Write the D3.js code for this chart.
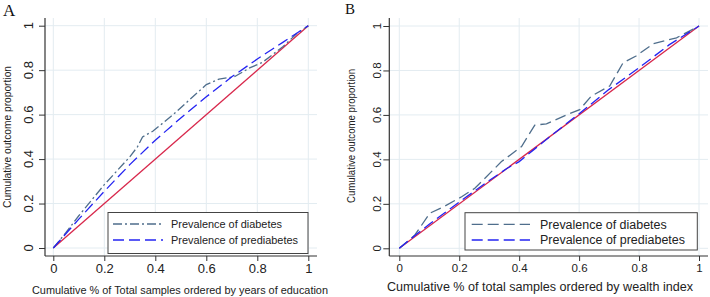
<!DOCTYPE html>
<html>
<head>
<meta charset="utf-8">
<title>Concentration curves</title>
<script src="https://cdn.jsdelivr.net/npm/d3@7/dist/d3.min.js"></script>
<style>
  body { margin: 0; background: #fff; }
  svg { display: block; font-family: "Liberation Sans", Arial, sans-serif; }
  .grid line { stroke: #e3ecf1; stroke-width: 1; }
  .tick line { stroke: #333; }
  .tick text { fill: #222; }
</style>
</head>
<body>
<script>
var width = 710, height = 297;

var ticks = [0, 0.2, 0.4, 0.6, 0.8, 1];
var tickLabels = ["0", "0.2", "0.4", "0.6", "0.8", "1"];
var legendLabels = ["Prevalence of diabetes", "Prevalence of prediabetes"];

// line of equality
var equality = [[0, 0], [1, 1]];

// panel A: ordered by years of education
var eduDiabetes = [[0, 0], [0.05, 0.07], [0.1, 0.145], [0.2, 0.285], [0.3, 0.41], [0.33, 0.455],
  [0.35, 0.5], [0.39, 0.525], [0.47, 0.6], [0.6, 0.735], [0.65, 0.76], [0.71, 0.77],
  [0.77, 0.81], [0.82, 0.835], [0.9, 0.905], [0.955, 0.965], [1, 1]];
var eduPrediabetes = [[0, 0], [0.05, 0.065], [0.1, 0.13], [0.2, 0.255], [0.3, 0.375],
  [0.4, 0.485], [0.5, 0.585], [0.6, 0.68], [0.7, 0.77], [0.8, 0.85], [0.9, 0.925], [1, 1]];

// panel B: ordered by wealth index
var wealthDiabetes = [[0, 0], [0.052, 0.06], [0.102, 0.158], [0.148, 0.187], [0.208, 0.232],
  [0.252, 0.27], [0.341, 0.39], [0.408, 0.458], [0.452, 0.554], [0.491, 0.56], [0.558, 0.6],
  [0.602, 0.624], [0.641, 0.685], [0.702, 0.73], [0.747, 0.835], [0.79, 0.865],
  [0.847, 0.92], [0.925, 0.947], [0.958, 0.97], [1, 1]];
var wealthPrediabetes = [[0, 0], [0.05, 0.055], [0.1, 0.108], [0.2, 0.208], [0.3, 0.305],
  [0.36, 0.36], [0.4, 0.39], [0.45, 0.445], [0.5, 0.5], [0.6, 0.605], [0.7, 0.715],
  [0.8, 0.812], [0.9, 0.915], [1, 1]];

var svg = d3.select("body").append("svg")
  .attr("width", width)
  .attr("height", height);

var panels = [
  {
    letter: "A", letterX: 3, letterY: 16, letterSize: 17,
    box: {left: 45, right: 317, top: 18, bottom: 256},
    xRange: [53.3, 308.3], yRange: [248, 25.7],
    tickSize: 13, yLabelX: 28,
    xTitle: "Cumulative % of Total samples ordered by years of education",
    xTitleX: 180, xTitleY: 289.5, xTitleLen: 296, xTitleSize: 11.5,
    yTitleX: 7, yTitleY: 137, yTitleLen: 142,
    series: [
      {data: eduDiabetes, color: "#4f6e8c", dash: "9,3,2,3"},
      {data: eduPrediabetes, color: "#2424f2", dash: "11,5"}
    ],
    legend: {x: 108, y: 212.5, w: 200, h: 41, lineX: [113, 163], textX: 171,
      rows: [224, 240], lens: [111, 127], size: 11.5}
  },
  {
    letter: "B", letterX: 345, letterY: 14, letterSize: 15,
    box: {left: 389.3, right: 708, top: 18, bottom: 256},
    xRange: [399.3, 699], yRange: [248.3, 26],
    tickSize: 11.5, yLabelX: 377,
    xTitle: "Cumulative % of total samples ordered by wealth index",
    xTitleX: 540, xTitleY: 286.5, xTitleLen: 306, xTitleSize: 12,
    yTitleX: 351, yTitleY: 136, yTitleLen: 134,
    series: [
      {data: wealthDiabetes, color: "#4f6e8c", dash: "11,5"},
      {data: wealthPrediabetes, color: "#2424f2", dash: "11,5"}
    ],
    legend: {x: 465, y: 212.7, w: 232.3, h: 37.3, lineX: [471.7, 530], textX: 540,
      rows: [224.3, 240], lens: [126.7, 145], size: 12.5}
  }
];

panels.forEach(function(p) {
  var x = d3.scaleLinear().domain([0, 1]).range(p.xRange);
  var y = d3.scaleLinear().domain([0, 1]).range(p.yRange);
  var g = svg.append("g");

  // grid
  var grid = g.append("g").attr("class", "grid");
  grid.selectAll(".gx").data(ticks).enter().append("line")
    .attr("x1", function(d) { return x(d); })
    .attr("x2", function(d) { return x(d); })
    .attr("y1", p.box.top).attr("y2", p.box.bottom);
  grid.selectAll(".gy").data(ticks).enter().append("line")
    .attr("x1", p.box.left).attr("x2", p.box.right)
    .attr("y1", function(d) { return y(d); })
    .attr("y2", function(d) { return y(d); });

  // axes
  var xAxis = d3.axisBottom(x).tickValues(ticks)
    .tickFormat(function(d, i) { return tickLabels[i]; })
    .tickSize(5).tickPadding(3).tickSizeOuter(0);
  var gx = g.append("g").attr("transform", "translate(0," + p.box.bottom + ")").call(xAxis);
  gx.select(".domain").remove();
  gx.selectAll("text").style("font-size", p.tickSize + "px")
    .style("font-family", "'Liberation Sans', Arial, sans-serif");

  var yAxis = d3.axisLeft(y).tickValues(ticks).tickFormat("").tickSize(6).tickSizeOuter(0);
  var gy = g.append("g").attr("transform", "translate(" + p.box.left + ",0)").call(yAxis);
  gy.select(".domain").remove();

  g.selectAll(".ylab").data(ticks).enter().append("text")
    .attr("transform", function(d) { return "translate(" + p.yLabelX + "," + y(d) + ") rotate(-90)"; })
    .attr("text-anchor", "middle")
    .attr("dy", "0.35em")
    .style("font-size", p.tickSize + "px")
    .attr("fill", "#222")
    .text(function(d, i) { return tickLabels[i]; });

  g.append("line").attr("x1", p.box.left).attr("x2", p.box.left)
    .attr("y1", p.box.top).attr("y2", p.box.bottom)
    .attr("stroke", "#333").attr("stroke-width", 1.2);
  g.append("line").attr("x1", p.box.left).attr("x2", p.box.right)
    .attr("y1", p.box.bottom).attr("y2", p.box.bottom)
    .attr("stroke", "#333").attr("stroke-width", 1.2);

  // curves
  var line = d3.line()
    .x(function(d) { return x(d[0]); })
    .y(function(d) { return y(d[1]); });

  g.append("path").attr("d", line(equality))
    .attr("fill", "none").attr("stroke", "#d8284c").attr("stroke-width", 1.3);

  p.series.forEach(function(s) {
    g.append("path").attr("d", line(s.data))
      .attr("fill", "none")
      .attr("stroke", s.color)
      .attr("stroke-width", 1.3)
      .attr("stroke-dasharray", s.dash);
  });

  // legend
  var L = p.legend;
  g.append("rect").attr("x", L.x).attr("y", L.y).attr("width", L.w).attr("height", L.h)
    .attr("fill", "#fff").attr("stroke", "#444").attr("stroke-width", 1);
  p.series.forEach(function(s, i) {
    g.append("line").attr("x1", L.lineX[0]).attr("x2", L.lineX[1])
      .attr("y1", L.rows[i]).attr("y2", L.rows[i])
      .attr("stroke", s.color).attr("stroke-width", 1.3)
      .attr("stroke-dasharray", s.dash);
    g.append("text").attr("x", L.textX).attr("y", L.rows[i]).attr("dy", "0.35em")
      .attr("textLength", L.lens[i]).attr("lengthAdjust", "spacingAndGlyphs")
      .style("font-size", L.size + "px").attr("fill", "#222")
      .text(legendLabels[i]);
  });

  // titles
  g.append("text").attr("x", p.xTitleX).attr("y", p.xTitleY).attr("dy", "0.35em")
    .attr("text-anchor", "middle")
    .attr("textLength", p.xTitleLen).attr("lengthAdjust", "spacingAndGlyphs")
    .style("font-size", p.xTitleSize + "px").attr("fill", "#222")
    .text(p.xTitle);
  g.append("text")
    .attr("transform", "translate(" + p.yTitleX + "," + p.yTitleY + ") rotate(-90)")
    .attr("text-anchor", "middle").attr("dy", "0.35em")
    .attr("textLength", p.yTitleLen).attr("lengthAdjust", "spacingAndGlyphs")
    .style("font-size", "11px").attr("fill", "#222")
    .text("Cumulative outcome proportion");

  g.append("text").attr("x", p.letterX).attr("y", p.letterY)
    .style("font-family", "'Liberation Serif', 'Times New Roman', serif")
    .style("font-size", p.letterSize + "px").attr("fill", "#111")
    .text(p.letter);
});
</script>
</body>
</html>
